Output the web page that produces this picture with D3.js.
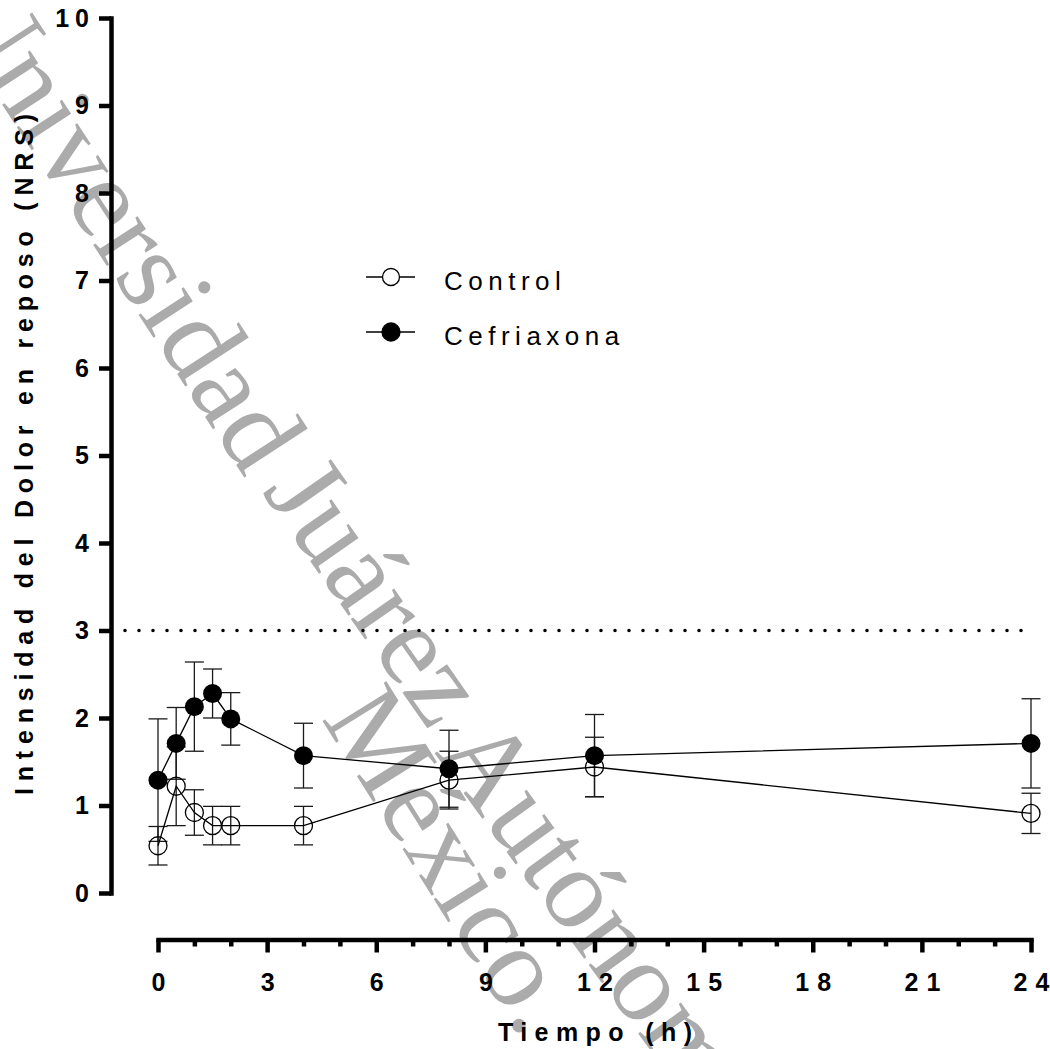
<!DOCTYPE html>
<html>
<head>
<meta charset="utf-8">
<script src="https://cdn.jsdelivr.net/npm/d3@7/dist/d3.min.js"></script>
<style>
  html, body { margin: 0; padding: 0; background: #fff; }
  svg { display: block; }
</style>
</head>
<body>
<svg id="chart" width="1050" height="1049"></svg>
<script>
// ---- data ----
const times = [0, 0.5, 1, 1.5, 2, 4, 8, 12, 24];
const controlMean = [0.54, 1.22, 0.92, 0.77, 0.77, 0.77, 1.29, 1.44, 0.91];
const controlSEM  = [0.22, 0.45, 0.26, 0.22, 0.22, 0.22, 0.33, 0.34, 0.23];
const cefMean = [1.29, 1.71, 2.13, 2.28, 1.99, 1.57, 1.42, 1.57, 1.71];
const cefSEM  = [0.70, 0.41, 0.51, 0.28, 0.30, 0.37, 0.44, 0.47, 0.51];
const seriesNames = ["Control", "Cefriaxona"];
const yTicks = [0, 1, 2, 3, 4, 5, 6, 7, 8, 9, 10];
const xMajorTicks = [0, 3, 6, 9, 12, 15, 18, 21, 24];
const xMinorTicks = [1, 2, 4, 5, 7, 8, 10, 11, 13, 14, 16, 17, 19, 20, 22, 23];
const threshold = 3;
const xTitle = "Tiempo (h)";
const yTitle = "Intensidad del Dolor en reposo (NRS)";
const watermarkWords = ["Universidad", "Juárez", "Autónoma", "México."];

const FONT = "'Liberation Sans', Arial, sans-serif";
const svg = d3.select("#chart");

const x = d3.scaleLinear().domain([0, 24]).range([158, 1031]);
const y = d3.scaleLinear().domain([0, 10]).range([893, 18]);

// per-character spacing as a dx list (no trailing space, so anchoring is exact)
const spaced = (s, gap) => s.split("").map((c, i) => (i === 0 ? 0 : gap)).join(" ");

// ---- watermark (beneath chart) ----
const wmPlace = [
  { cx: 274, cy: 460, a: 57, anchor: "end" },
  { cx: 374, cy: 592, a: 55, anchor: "middle" },
  { cx: 462, cy: 732, a: 54, anchor: "start" },
  { cx: 350, cy: 700, a: 58, anchor: "start" }
];
const wm = svg.append("g").attr("fill", "#ababab")
  .style("font-family", "'Liberation Serif', 'Times New Roman', serif")
  .style("font-size", "115px");
watermarkWords.forEach((w, i) => {
  const p = wmPlace[i];
  wm.append("text")
    .attr("transform", `translate(${p.cx},${p.cy}) rotate(${p.a})`)
    .attr("text-anchor", p.anchor)
    .attr("dy", "0.3em")
    .text(w);
});

// ---- axes ----
const yAxis = d3.axisLeft(y).tickValues(yTicks).tickSize(12).tickSizeOuter(0).tickPadding(10);
const gy = svg.append("g").attr("transform", "translate(111,0)").call(yAxis);
gy.select(".domain").attr("stroke", "#000").attr("stroke-width", 4.5).attr("stroke-linecap", "square");
gy.selectAll(".tick line").attr("stroke", "#000").attr("stroke-width", 4.5);
gy.selectAll(".tick text")
  .style("font-family", FONT).style("font-size", "25px").style("font-weight", "bold")
  .attr("fill", "#000").attr("dx", d => spaced(String(d), 6));

const xAxis = d3.axisBottom(x).tickValues(xMajorTicks).tickSize(13).tickSizeOuter(0).tickPadding(21);
const gx = svg.append("g").attr("transform", "translate(0,939.5)").call(xAxis);
gx.select(".domain").attr("stroke", "#000").attr("stroke-width", 4.5).attr("stroke-linecap", "square");
gx.selectAll(".tick line").attr("stroke", "#000").attr("stroke-width", 4.5);
gx.selectAll(".tick text")
  .style("font-family", FONT).style("font-size", "25px").style("font-weight", "bold")
  .attr("fill", "#000").attr("dx", d => spaced(String(d), 8));

const xMinor = d3.axisBottom(x).tickValues(xMinorTicks).tickSize(7).tickSizeOuter(0).tickFormat("");
const gxm = svg.append("g").attr("transform", "translate(0,939.5)").call(xMinor);
gxm.select(".domain").remove();
gxm.selectAll(".tick line").attr("stroke", "#000").attr("stroke-width", 4.5);

// titles
svg.append("text")
  .attr("transform", `translate(33,${(114 + 795) / 2}) rotate(-90)`)
  .attr("text-anchor", "middle")
  .attr("textLength", 681).attr("lengthAdjust", "spacing")
  .style("font-family", FONT).style("font-size", "25px").style("font-weight", "bold")
  .text(yTitle);

svg.append("text")
  .attr("x", 498).attr("y", 1041)
  .attr("textLength", 194).attr("lengthAdjust", "spacing")
  .style("font-family", FONT).style("font-size", "25px").style("font-weight", "bold")
  .text(xTitle);

// threshold dotted line
svg.append("line")
  .attr("x1", 125).attr("x2", x(24)).attr("y1", y(threshold)).attr("y2", y(threshold))
  .attr("stroke", "#000").attr("stroke-width", 3.6)
  .attr("stroke-linecap", "round").attr("stroke-dasharray", "0,14");

// ---- data marks ----
const ctrl = times.map((t, i) => ({ t, m: controlMean[i], e: controlSEM[i] }));
const cef = times.map((t, i) => ({ t, m: cefMean[i], e: cefSEM[i] }));
const capW = 9.5;

function errorBars(data) {
  const g = svg.append("g").attr("stroke", "#1a1a1a").attr("stroke-width", 1.3).attr("fill", "none");
  data.forEach(d => {
    const cx = x(d.t), y1 = y(d.m + d.e), y0 = y(d.m - d.e);
    g.append("line").attr("x1", cx).attr("x2", cx).attr("y1", y1).attr("y2", y0);
    g.append("line").attr("x1", cx - capW).attr("x2", cx + capW).attr("y1", y1).attr("y2", y1);
    g.append("line").attr("x1", cx - capW).attr("x2", cx + capW).attr("y1", y0).attr("y2", y0);
  });
}
errorBars(ctrl);
errorBars(cef);

const line = d3.line().x(d => x(d.t)).y(d => y(d.m));
svg.append("path").datum(ctrl).attr("d", line).attr("fill", "none").attr("stroke", "#000").attr("stroke-width", 1.3);
svg.append("path").datum(cef).attr("d", line).attr("fill", "none").attr("stroke", "#000").attr("stroke-width", 1.3);

svg.append("g").selectAll("circle").data(ctrl).join("circle")
  .attr("cx", d => x(d.t)).attr("cy", d => y(d.m)).attr("r", 9)
  .attr("fill", "none").attr("stroke", "#000").attr("stroke-width", 1.3);
svg.append("g").selectAll("circle").data(cef).join("circle")
  .attr("cx", d => x(d.t)).attr("cy", d => y(d.m)).attr("r", 9.5)
  .attr("fill", "#000");

// ---- legend ----
const legend = svg.append("g");
const legY = [277, 332];
seriesNames.forEach((name, i) => {
  const g = legend.append("g").attr("transform", `translate(0,${legY[i]})`);
  g.append("line").attr("x1", 366).attr("x2", 415).attr("y1", 0).attr("y2", 0)
    .attr("stroke", "#000").attr("stroke-width", 1.3);
  g.append("circle").attr("cx", 391).attr("cy", 0).attr("r", i === 0 ? 8.5 : 9)
    .attr("fill", i === 0 ? "#fff" : "#000").attr("stroke", "#000").attr("stroke-width", 1.3);
  g.append("text").attr("x", 444).attr("y", 12.5)
    .style("font-family", FONT).style("font-size", "26px")
    .style("letter-spacing", "5.5px").text(name);
});
</script>
</body>
</html>
